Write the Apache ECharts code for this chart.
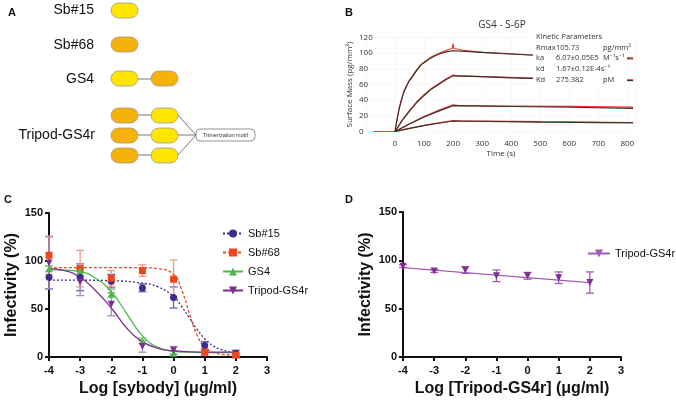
<!DOCTYPE html>
<html>
<head>
<meta charset="utf-8">
<script src="https://cdn.jsdelivr.net/npm/echarts@6/dist/echarts.min.js"></script>
<style>
html,body{margin:0;padding:0;background:#fff}
#main{width:676px;height:400px}
</style>
</head>
<body>
<div id="main"></div>
<script>
// ---- panel B: SPR sensorgram, [time (s), surface mass]
var spr1Raw = [[-75,0],[0,0],[5,12],[10,22],[15,31],[20,38],[30,51],[40,59],[50,66],[60,71],[75,79],[90,86],[105,90],[120,94],[140,98],[160,101],[180,104],[197,106],[200,112],[203,106],[230,104],[300,101],[400,99],[500,97],[600,96],[700,95],[820,94]];
var spr1Fit = [[0,0],[5,11],[10,21],[15,30],[20,37],[30,50],[40,58],[50,65],[60,70],[75,78],[90,85],[105,89],[120,93],[140,97],[160,100],[180,102],[200,103],[300,101],[400,99],[500,97],[600,95.5],[700,94],[820,92.5]];
var spr2Raw = [[0,0],[25,15],[50,27],[75,38],[100,47],[125,55],[150,61],[175,67],[200,72],[220,71],[300,70],[400,69],[500,68],[650,67],[820,66]];
var spr2Fit = [[0,0],[25,14],[50,26],[75,37],[100,46],[125,54],[150,60],[175,66],[200,71],[300,70],[400,68.5],[500,67.5],[650,66],[820,65]];
var spr3Raw = [[0,0],[50,10],[100,19],[150,27],[200,34],[220,33],[400,32.5],[600,32],[820,31]];
var spr3Fit = [[0,0],[50,9.5],[100,18.5],[150,26],[200,33],[400,32],[600,31],[820,29.5]];
var spr4Raw = [[0,0],[50,4],[100,8],[150,11],[200,14],[220,13.5],[500,12.5],[820,11.5]];
var spr4Fit = [[0,0],[50,4],[100,7.5],[150,10.5],[200,13.5],[500,12],[820,11]];

// ---- panel C: neutralisation, log dose vs infectivity (%)
var logDose = [-4,-3,-2,-1,0,1,2];
var sb15Mean = [83,83,79,72,62,12,4];
var sb15Sd   = [12,14,7,4,11,4,3];
var sb68Mean = [106,92,82,90,81,5,2];
var sb68Sd   = [20,19,8,6,20,3,1];
var gs4Mean  = [92,90,66,17,4];
var gs4Sd    = [3,5,4,3,2];
var tripMean = [98,78,55,11,7];
var tripSd   = [27,14,12,6,4];
// fitted curves
var sb15Fit = [[-4,80],[-3,80],[-2,79.5],[-1,77],[-0.5,73],[0,63],[0.25,53],[0.5,41],[0.75,29],[1,19],[1.25,12],[1.5,8],[2,4]];
var sb68Fit = [[-4,93],[-2,93],[-1,93],[-0.5,92],[0,86],[0.25,71],[0.5,46],[0.75,23],[1,10],[1.25,5],[1.5,3],[2,2]];
var gs4Fit  = [[-4,91],[-3.5,90.5],[-3,89],[-2.5,82],[-2,68],[-1.5,45],[-1,22],[-0.5,10],[0,6],[0.5,5],[1,4.5],[2,4.5]];
var tripFit = [[-4,92],[-3.5,90],[-3,83],[-2.5,69],[-2,51],[-1.5,30],[-1,16],[-0.5,9],[0,6.5],[1,5],[2,5]];

// ---- panel D: Tripod-GS4r alone
var dMean = [94,89,90,84,84,82,77];
var dSd   = [1.5,1.5,3.5,6,3.5,6,11];
var dFit  = [[-4,92.5],[2,77]];

var cSb15 = '#3d2b8e', cSb68 = '#f0461e', cGs4 = '#4db848', cTrip = '#7e2e8e';
var YEL = '#ffe500', ORA = '#f7b20a';

function pts(xs, ys) {
    return ys.map(function (y, i) { return [xs[i], y]; });
}

function errorBars(xs, means, sds, color, gi) {
    return {
        type: 'custom', xAxisIndex: gi, yAxisIndex: gi, z: 1, silent: true,
        data: means.map(function (m, i) { return [xs[i], m - sds[i], m + sds[i]]; }),
        renderItem: function (params, api) {
            var lo = api.coord([api.value(0), api.value(1)]);
            var hi = api.coord([api.value(0), api.value(2)]);
            var w = 4;
            var st = { stroke: color, lineWidth: 1.3 };
            return {
                type: 'group', children: [
                    { type: 'line', shape: { x1: lo[0], y1: lo[1], x2: hi[0], y2: hi[1] }, style: st },
                    { type: 'line', shape: { x1: lo[0] - w, y1: lo[1], x2: lo[0] + w, y2: lo[1] }, style: st },
                    { type: 'line', shape: { x1: hi[0] - w, y1: hi[1], x2: hi[0] + w, y2: hi[1] }, style: st }
                ]
            };
        }
    };
}

function fitLine(name, data, color, symbol, rot, dash, gi) {
    return {
        name: name, type: 'line', xAxisIndex: gi, yAxisIndex: gi, data: data,
        smooth: true, showSymbol: false, symbol: symbol, symbolSize: 7, symbolRotate: rot,
        lineStyle: { color: color, width: 1.3, type: dash },
        itemStyle: { color: color }, z: 2, silent: true
    };
}

function markers(name, data, color, symbol, rot, gi) {
    return {
        name: name, type: 'line', xAxisIndex: gi, yAxisIndex: gi, data: data,
        symbol: symbol, symbolSize: 7, symbolRotate: rot,
        lineStyle: { width: 0, opacity: 0 }, itemStyle: { color: color },
        z: 3, clip: false, silent: true
    };
}

function sprLine(data, color, w) {
    return {
        type: 'line', xAxisIndex: 0, yAxisIndex: 0, data: data, smooth: false,
        showSymbol: false, lineStyle: { color: color, width: w }, silent: true
    };
}

function doseX(gi, name) {
    return {
        gridIndex: gi, type: 'value', min: -4, max: 3, interval: 1,
        name: name, nameLocation: 'middle', nameGap: 24,
        nameTextStyle: { fontFamily: 'Liberation Sans', fontWeight: 'bold', fontSize: 16, color: '#111' },
        axisLine: { onZero: false, lineStyle: { color: '#111', width: 2 } },
        axisTick: { length: 4, lineStyle: { width: 2, color: '#111' } },
        axisLabel: { margin: 8, fontFamily: 'Liberation Sans', fontWeight: 'bold', fontSize: 11, color: '#111' },
        splitLine: { show: false }
    };
}

function doseY(gi) {
    return {
        gridIndex: gi, type: 'value', min: 0, max: 150, interval: 50,
        name: 'Infectivity (%)', nameLocation: 'middle', nameGap: 29,
        nameTextStyle: { fontFamily: 'Liberation Sans', fontWeight: 'bold', fontSize: 16, color: '#111' },
        axisLine: { show: true, onZero: false, lineStyle: { color: '#111', width: 2 } },
        axisTick: { show: true, length: 4, lineStyle: { width: 2, color: '#111' } },
        axisLabel: { margin: 6, fontFamily: 'Liberation Sans', fontWeight: 'bold', fontSize: 11, color: '#111' },
        splitLine: { show: false }
    };
}

// schematic of panel A (drawing, not data)
function pill(x, y, color) {
    return { type: 'rect', shape: { x: x, y: y, width: 27, height: 15, r: 7.5 },
             style: { fill: color, stroke: '#9a9a9a', lineWidth: 0.8 } };
}
function seg(x1, y1, x2, y2) {
    return { type: 'line', shape: { x1: x1, y1: y1, x2: x2, y2: y2 }, style: { stroke: '#555', lineWidth: 0.8 } };
}
function label(x, y, txt, opt) {
    var s = { x: x, y: y, text: txt, fill: '#111', font: '14px "Liberation Sans"', align: 'right', verticalAlign: 'middle' };
    for (var k in opt) s[k] = opt[k];
    return { type: 'text', style: s };
}
function kin(x, y, txt) {
    var g = label(x, y, txt, { font: '7.5px "Open Sans"', align: 'left', fill: '#333' });
    g.z = 51;
    return g;
}

var graphics = [
    label(8, 13, 'A', { font: 'bold 11px "Liberation Sans"', align: 'left' }),
    label(345, 13, 'B', { font: 'bold 11px "Liberation Sans"', align: 'left' }),
    label(4, 200, 'C', { font: 'bold 11px "Liberation Sans"', align: 'left' }),
    label(345, 200, 'D', { font: 'bold 11px "Liberation Sans"', align: 'left' }),
    label(94, 10, 'Sb#15'), label(94, 45, 'Sb#68'), label(94, 79, 'GS4'), label(95, 135, 'Tripod-GS4r'),
    pill(111, 3, YEL), pill(111, 37, ORA),
    seg(138, 79, 151, 79), pill(111, 71, YEL), pill(151, 71, ORA),
    seg(138, 115, 151, 115), seg(138, 135, 151, 135), seg(138, 155, 151, 155),
    seg(178, 115, 196, 135), seg(178, 135, 196, 135), seg(178, 155, 196, 135),
    pill(111, 108, ORA), pill(151, 108, YEL),
    pill(111, 128, ORA), pill(151, 128, YEL),
    pill(111, 148, ORA), pill(151, 148, YEL),
    { type: 'rect', shape: { x: 196, y: 129, width: 59, height: 12, r: 4 }, style: { fill: '#fff', stroke: '#777', lineWidth: 0.8 } },
    label(225.5, 135, 'Trimerization motif', { font: '5.5px "Liberation Sans"', align: 'center', fill: '#333' }),
    label(502, 25, 'GS4 - S-6P', { font: '10px "Open Sans"', align: 'center', fill: '#333' }),
    // kinetic parameter box
    { type: 'rect', z: 50, shape: { x: 533, y: 30, width: 94, height: 57 }, style: { fill: '#fff' } },
    kin(536, 37, 'Kinetic Parameters'),
    kin(536, 48, 'Rmax'), kin(556, 48, '105.73'), kin(603, 48, 'pg/mm²'),
    kin(536, 58, 'ka'), kin(556, 58, '6.07±0.05E5'), kin(603, 58, 'M⁻¹s⁻¹'),
    kin(536, 69, 'kd'), kin(556, 69, '1.67±0.12E-4s⁻¹'),
    kin(536, 80, 'Kd'), kin(556, 80, '275.382'), kin(603, 80, 'pM')
];

var chart = echarts.init(document.getElementById('main'));
var option = {
    animation: false,
    backgroundColor: '#fff',
    grid: [
        { left: 366, right: 40, top: 37.5, bottom: 268.5 },
        { left: 49, right: 409, top: 213, bottom: 43 },
        { left: 403, right: 55, top: 212, bottom: 43 }
    ],
    xAxis: [
        {
            gridIndex: 0, type: 'value', min: -100, max: 830, interval: 100,
            name: 'Time (s)', nameLocation: 'middle', nameGap: 18,
            nameTextStyle: { fontFamily: 'Open Sans', fontSize: 8, color: '#333' },
            axisLine: { show: false }, axisTick: { show: false },
            axisLabel: {
                margin: 8, fontFamily: 'Open Sans', fontSize: 8, color: '#333',
                formatter: function (v) { return (v >= 0 && v % 100 === 0) ? String(v) : ''; }
            },
            splitLine: { show: true, lineStyle: { color: '#f3f3f3', width: 0.6 } }
        },
        doseX(1, 'Log [sybody] (μg/ml)'),
        doseX(2, 'Log [Tripod-GS4r] (μg/ml)')
    ],
    yAxis: [
        {
            gridIndex: 0, type: 'value', min: 0, max: 120, interval: 20,
            name: 'Surface Mass (pg/mm²)', nameLocation: 'middle', nameGap: 12,
            nameTextStyle: { fontFamily: 'Open Sans', fontSize: 8, color: '#333' },
            axisLine: { show: false }, axisTick: { show: false },
            axisLabel: { margin: 7, align: 'left', fontFamily: 'Open Sans', fontSize: 8, color: '#333' },
            splitLine: { show: true, lineStyle: { color: '#f3f3f3', width: 0.6 } }
        },
        doseY(1),
        doseY(2)
    ],
    legend: [
        {
            left: 217, top: 223, orient: 'vertical', itemGap: 8, itemWidth: 20, itemHeight: 10,
            textStyle: { fontFamily: 'Liberation Sans', fontSize: 11, color: '#111' },
            data: ['Sb#15', 'Sb#68', 'GS4', 'Tripod-GS4r']
        },
        {
            left: 582, top: 243, itemWidth: 22, itemHeight: 10,
            textStyle: { fontFamily: 'Liberation Sans', fontSize: 11, color: '#111' },
            data: ['Tripod-GS4r ']
        }
    ],
    graphic: graphics,
    series: [
        sprLine(spr1Raw, '#f0392b', 1.2), sprLine(spr2Raw, '#f0392b', 1.2),
        sprLine(spr3Raw, '#f0392b', 1.2), sprLine(spr4Raw, '#f0392b', 1.2),
        sprLine(spr1Fit, '#333', 1.1), sprLine(spr2Fit, '#333', 1.1),
        sprLine(spr3Fit, '#333', 1.1), sprLine(spr4Fit, '#333', 1.1),

        fitLine('Sb#15', sb15Fit, cSb15, 'circle', 0, [2, 2], 1),
        fitLine('Sb#68', sb68Fit, cSb68, 'rect', 0, [3, 2], 1),
        fitLine('GS4', gs4Fit, cGs4, 'triangle', 0, 'solid', 1),
        fitLine('Tripod-GS4r', tripFit, cTrip, 'triangle', 180, 'solid', 1),
        errorBars(logDose, sb15Mean, sb15Sd, '#6f62b0', 1),
        errorBars(logDose, sb68Mean, sb68Sd, '#f59a85', 1),
        errorBars(logDose, gs4Mean, gs4Sd, '#8fd486', 1),
        errorBars(logDose, tripMean, tripSd, '#b387c0', 1),
        markers('Sb#15', pts(logDose, sb15Mean), cSb15, 'circle', 0, 1),
        markers('Sb#68', pts(logDose, sb68Mean), cSb68, 'rect', 0, 1),
        markers('GS4', pts(logDose, gs4Mean), cGs4, 'triangle', 0, 1),
        markers('Tripod-GS4r', pts(logDose, tripMean), cTrip, 'triangle', 180, 1),

        fitLine('Tripod-GS4r ', dFit, '#a45bb5', 'triangle', 180, 'solid', 2),
        errorBars(logDose, dMean, dSd, '#a45bb5', 2),
        markers('Tripod-GS4r ', pts(logDose, dMean), cTrip, 'triangle', 180, 2)
    ]
};
chart.setOption(option);
</script>
</body>
</html>
